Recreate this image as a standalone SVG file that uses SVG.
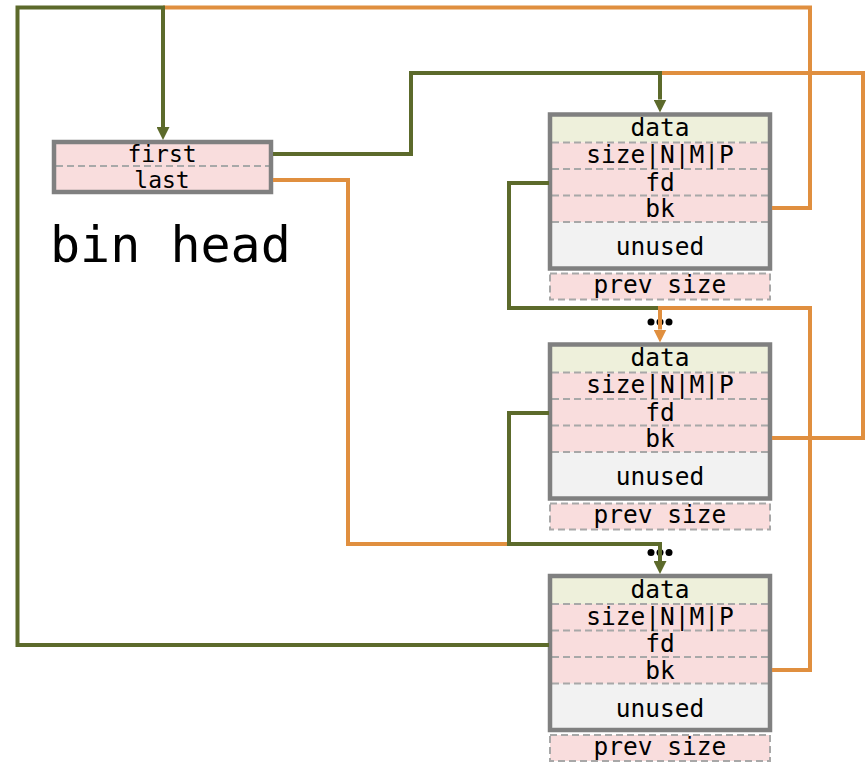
<svg xmlns="http://www.w3.org/2000/svg" width="866" height="763" viewBox="0 0 866 763">
<style>
.t{font-family:"DejaVu Sans Mono","Liberation Mono",monospace;font-size:24.5px;fill:#000;text-anchor:middle}
.ts{font-size:23px}
.big{font-family:"DejaVu Sans Mono","Liberation Mono",monospace;font-size:50px;fill:#000}
.frame{fill:none;stroke:#808080;stroke-width:4.5}
.pink{fill:#f9dddd}
.datab{fill:#eef0db}
.unused{fill:#f2f2f2}
.sep{stroke:#a8a8a8;stroke-width:2;stroke-dasharray:7 4;fill:none}
.prev{fill:#f9dddd;stroke:#a8a8a8;stroke-width:2;stroke-dasharray:7 4}
.g{fill:none;stroke:#5c6a2b;stroke-width:4}
.o{fill:none;stroke:#e08f3f;stroke-width:4}
.dot{fill:#000}
</style>
<defs>
<marker id="ag" viewBox="0 0 10 10" refX="0" refY="5" markerWidth="13" markerHeight="13" markerUnits="userSpaceOnUse" orient="auto"><path d="M0,0L10,5L0,10z" fill="#5c6a2b"/></marker>
<marker id="ao" viewBox="0 0 10 10" refX="0" refY="5" markerWidth="13" markerHeight="13" markerUnits="userSpaceOnUse" orient="auto"><path d="M0,0L10,5L0,10z" fill="#e08f3f"/></marker>
<g id="chunk">
<rect x="550" y="0" width="220" height="28" class="datab"/>
<rect x="550" y="28" width="220" height="80" class="pink"/>
<rect x="550" y="107.5" width="220" height="46.5" class="unused"/>
<line x1="552" y1="28" x2="768" y2="28" class="sep"/>
<line x1="552" y1="54.5" x2="768" y2="54.5" class="sep"/>
<line x1="552" y1="81" x2="768" y2="81" class="sep"/>
<line x1="552" y1="107.5" x2="768" y2="107.5" class="sep"/>
<rect x="550" y="0" width="220" height="154" class="frame"/>
<rect x="550" y="159" width="220" height="26" class="prev"/>
<text x="660" y="21.5" class="t">data</text>
<text x="660" y="48.5" class="t">size|N|M|P</text>
<text x="660" y="76" class="t">fd</text>
<text x="660" y="102.5" class="t">bk</text>
<text x="660" y="140.5" class="t">unused</text>
<text x="660" y="178.5" class="t">prev size</text>
</g>
</defs>
<g id="binhead">
<rect x="54" y="142" width="217" height="50" class="pink"/>
<line x1="56" y1="166" x2="269" y2="166" class="sep"/>
<rect x="54" y="142" width="217" height="50" class="frame"/>
<text x="162" y="162" class="t ts">first</text>
<text x="162" y="187.5" class="t ts">last</text>
</g>
<g id="binhead-label"><text x="50" y="262" class="big">bin head</text></g>
<g id="chunk1"><use href="#chunk" transform="translate(0,114.5)"/></g>
<g id="chunk2"><use href="#chunk" transform="translate(0,344.5)"/></g>
<g id="chunk3"><use href="#chunk" transform="translate(0,576)"/></g>
<g id="dots">
<circle cx="651" cy="322" r="3.5" class="dot"/><circle cx="660" cy="322" r="3.5" class="dot"/><circle cx="669" cy="322" r="3.5" class="dot"/>
<circle cx="651" cy="552.5" r="3.5" class="dot"/><circle cx="660" cy="552.5" r="3.5" class="dot"/><circle cx="669" cy="552.5" r="3.5" class="dot"/>
</g>
<g id="connectors">
<path d="M772,208 H810 V7.5 H163" class="o"/>
<path d="M549,645 H17.5 V7.5 H163 V127" class="g" marker-end="url(#ag)"/>
<path d="M772,438 H863 V73 H660" class="o"/>
<path d="M273,154 H411 V73 H660 V99.5" class="g" marker-end="url(#ag)"/>
<path d="M549,183 H509 V308 H660" class="g"/>
<path d="M772,670 H810 V308 H660 V329.5" class="o" marker-end="url(#ao)"/>
<path d="M273,180 H348 V544 H509" class="o"/>
<path d="M549,413 H509 V544 H660 V561" class="g" marker-end="url(#ag)"/>
</g>
</svg>
